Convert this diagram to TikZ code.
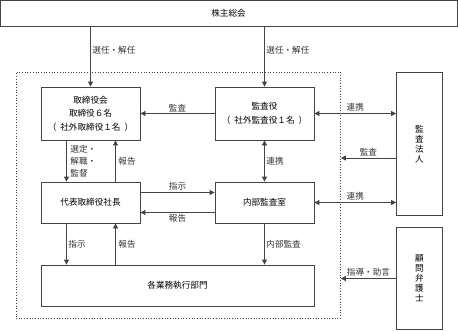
\documentclass[tikz,border=0pt]{standalone}
\usepackage{fontspec}
\newfontfamily\jp{Noto Sans CJK JP}
\usetikzlibrary{arrows.meta}
\definecolor{ln}{HTML}{444444}
\begin{document}
\begin{tikzpicture}[x=1pt,y=-1pt,
  font=\jp\fontsize{8.6pt}{13.5pt}\selectfont,
  box/.style={draw=ln,line width=0.8pt,fill=white,align=center,inner sep=0pt},
  arr/.style={draw=ln,line width=0.8pt,-{Triangle[length=5pt,width=5pt]}},
  barr/.style={draw=ln,line width=0.8pt,{Triangle[length=5pt,width=5pt]}-{Triangle[length=5pt,width=5pt]}},
  lbl/.style={inner sep=1.5pt,text=black!80}]
\useasboundingbox (0,0) rectangle (458,330);
\node[draw=ln,dotted,line width=0.7pt,minimum width=324.5pt,minimum height=246pt,inner sep=0pt] (dot) at (178.25,195) {};
\node[box,minimum width=457pt,minimum height=25.5pt] (sh) at (228.5,13.25) {株主総会};
\node[box,minimum width=99pt,minimum height=53pt] (tori) at (90.5,113.5) {取締役会\\取締役６名\\（\hspace{4pt}社外取締役１名\hspace{4pt}）};
\node[box,minimum width=99pt,minimum height=53pt] (ksy) at (264.5,113.5) {監査役\\（\hspace{4pt}社外監査役１名\hspace{4pt}）};
\node[box,minimum width=99pt,minimum height=41pt] (dai) at (90.5,202.5) {代表取締役社長};
\node[box,minimum width=99pt,minimum height=41pt] (nai) at (264.5,202.5) {内部監査室};
\node[box,minimum width=273pt,minimum height=41.5pt] (kaku) at (177.5,285.75) {各業務執行部門};
\node[box,minimum width=46pt,minimum height=143.5pt,font=\jp\fontsize{8.6pt}{10pt}\selectfont] (kh) at (419.5,144) {監\\査\\法\\人};
\node[box,minimum width=46pt,minimum height=102pt,font=\jp\fontsize{8.6pt}{10pt}\selectfont] (ben) at (419.5,278) {顧\\問\\弁\\護\\士};
% helper coordinates
\coordinate (dL) at ([xshift=-24pt]dai.south);
\coordinate (dR) at ([xshift=25pt]dai.south);
% arrows from shareholders
\draw[arr] (sh.south -| tori.north) -- node[lbl,pos=0.4,anchor=west] (l1) {選任・解任} (tori.north);
\draw[arr] (sh.south -| ksy.north) -- node[lbl,pos=0.4,anchor=west] (l2) {選任・解任} (ksy.north);
% kansayaku -> torishimariyakukai
\draw[arr] (ksy.west) -- node[lbl,above] (l3) {監査} (tori.east);
% kansayaku <-> kansahoujin
\draw[barr] (ksy.east) -- node[lbl,above] (l4) {連携} (ksy.east -| kh.west);
\coordinate (c1) at (kh.west |- 0,158);
\draw[arr] (c1) -- node[lbl,above] (l5) {監査} (c1 -| dot.east);
\draw[barr] (nai.east) -- node[lbl,above] (l6) {連携} (nai.east -| kh.west);
% kansayaku <-> naibu
\draw[barr] (ksy.south) -- node[lbl,anchor=west] (l7) {連携} (nai.north);
% tori <-> dai
\draw[arr] (tori.south -| dL) -- node[lbl,anchor=west,align=left,font=\jp\fontsize{8.6pt}{12pt}\selectfont,xshift=2pt] (l8) {選定・\\解職・\\監督} (dai.north -| dL);
\draw[arr] (dai.north -| dR) -- node[lbl,anchor=west,xshift=1pt] (l9) {報告} (tori.south -| dR);
% dai <-> nai
\draw[arr] ([yshift=10pt]dai.east) -- node[lbl,above] (l10) {指示} ([yshift=10pt]nai.west);
\draw[arr] ([yshift=-10pt]nai.west) -- node[lbl,below] (l11) {報告} ([yshift=-10pt]dai.east);
% dai <-> kaku
\draw[arr] (dL) -- node[lbl,anchor=west] (l12) {指示} (kaku.north -| dL);
\draw[arr] (kaku.north -| dR) -- node[lbl,anchor=west,xshift=1pt] (l13) {報告} (dR);
% nai -> kaku
\draw[arr] (nai.south) -- node[lbl,anchor=west] (l14) {内部監査} (kaku.north -| nai.south);
% bengoshi -> dot
\coordinate (c2) at (ben.west |- 0,278.5);
\draw[arr] (c2) -- node[lbl,above] (l15) {指導・助言} (c2 -| dot.east);
\end{tikzpicture}
\end{document}
